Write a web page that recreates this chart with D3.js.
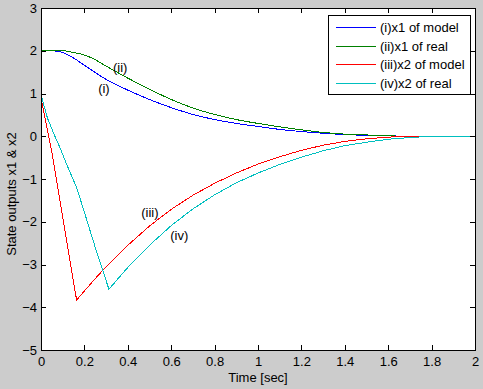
<!DOCTYPE html>
<html>
<head>
<meta charset="utf-8">
<script src="https://cdnjs.cloudflare.com/ajax/libs/d3/7.8.5/d3.min.js"></script>
<style>
    body { margin: 0; background: #cccccc; }
    text { font-family: "Liberation Sans", Arial, sans-serif; font-size: 13px; fill: #000; }
</style>
</head>
<body>
<svg id="chart" width="483" height="389"></svg>
<script>

/*************************************************************************/

const xTicks = [0, 0.2, 0.4, 0.6, 0.8, 1, 1.2, 1.4, 1.6, 1.8, 2];
const yTicks = [3, 2, 1, 0, -1, -2, -3, -4, -5];

const tX1     = [0, 0.05, 0.1, 0.15, 0.2, 0.25, 0.3, 0.35, 0.4, 0.5, 0.6, 0.7, 0.8, 0.9, 1.0, 1.1, 1.2, 1.3, 1.4, 1.5, 1.6, 1.7, 1.8, 2.0];
const x1Model = [2.0, 2.0, 1.96, 1.83, 1.66, 1.49, 1.33, 1.20, 1.08, 0.86, 0.67, 0.51, 0.39, 0.30, 0.23, 0.16, 0.11, 0.07, 0.04, 0.02, 0.01, 0, 0, 0];
const x1Real  = [2.0, 2.0, 2.0, 1.96, 1.90, 1.79, 1.64, 1.50, 1.36, 1.10, 0.86, 0.66, 0.51, 0.39, 0.30, 0.22, 0.15, 0.09, 0.05, 0.03, 0.01, 0, 0, 0];

const tX2Model = [0, 0.02, 0.05, 0.1, 0.164, 0.2, 0.25, 0.3, 0.4, 0.5, 0.6, 0.7, 0.8, 0.9, 1.0, 1.1, 1.2, 1.3, 1.4, 1.5, 1.6, 1.7, 2.0];
const x2Model  = [0.88, 0.40, -0.37, -1.9, -3.83, -3.62, -3.33, -3.05, -2.55, -2.10, -1.71, -1.38, -1.10, -0.86, -0.65, -0.48, -0.33, -0.21, -0.12, -0.06, -0.02, 0, 0];

const tX2Real = [0, 0.03, 0.06, 0.09, 0.12, 0.165, 0.2, 0.25, 0.313, 0.35, 0.4, 0.5, 0.6, 0.7, 0.8, 0.9, 1.0, 1.1, 1.2, 1.3, 1.4, 1.5, 1.6, 1.7, 1.8, 2.0];
const x2Real  = [0.97, 0.42, 0.05, -0.30, -0.68, -1.21, -1.78, -2.60, -3.58, -3.36, -3.07, -2.55, -2.09, -1.70, -1.37, -1.09, -0.86, -0.66, -0.49, -0.34, -0.22, -0.14, -0.07, -0.03, 0, 0];

const seriesNames  = ['(i)x1 of model', '(ii)x1 of real', '(iii)x2 of model', '(iv)x2 of real'];
const seriesColors = ['#0000ff', '#008000', '#ff0000', '#00bfbf'];

// curve annotations: text, t, value
const notes = [['(i)', 0.29, 1.12], ['(ii)', 0.365, 1.62], ['(iii)', 0.502, -1.79], ['(iv)', 0.637, -2.32]];

/*************************************************************************/

const svg = d3.select('#chart');
const L = 41, T = 8, R = 475, B = 350;

const x = d3.scaleLinear().domain([0, 2]).range([L, R]);
const y = d3.scaleLinear().domain([-5, 3]).range([B, T]);

svg.append('rect')
    .attr('x', 0).attr('y', 0).attr('width', 483).attr('height', 389)
    .attr('fill', '#cccccc');

svg.append('rect')
    .attr('x', L).attr('y', T).attr('width', R - L).attr('height', B - T)
    .attr('fill', '#ffffff');

/*************************************************************************/

const series = [
    { t: tX1, v: x1Model, smooth: true },
    { t: tX1, v: x1Real, smooth: true },
    { t: tX2Model, v: x2Model, smooth: false },
    { t: tX2Real, v: x2Real, smooth: false }
];

series.forEach((s, i) => {
    const pts = s.t.map((t, j) => [t, s.v[j]]);
    const line = d3.line()
        .x(d => x(d[0]))
        .y(d => y(d[1]))
        .curve(s.smooth ? d3.curveMonotoneX : d3.curveLinear);
    svg.append('path')
        .datum(pts)
        .attr('d', line)
        .attr('fill', 'none')
        .attr('stroke', seriesColors[i])
        .attr('stroke-width', 1)
        .attr('shape-rendering', 'crispEdges');
});

/*************************************************************************/

function styleAxis(g){
    g.selectAll('path, line').attr('stroke', '#000').attr('shape-rendering', 'crispEdges');
    g.selectAll('text').attr('font-family', null).attr('font-size', null).attr('fill', '#000');
}

svg.append('g')
    .attr('transform', `translate(0,${B})`)
    .call(d3.axisBottom(x).tickValues(xTicks).tickFormat(d3.format('')).tickSizeInner(-5).tickSizeOuter(0).tickPadding(7))
    .call(styleAxis);

svg.append('g')
    .attr('transform', `translate(0,${T})`)
    .call(d3.axisTop(x).tickValues(xTicks).tickFormat('').tickSizeInner(-5).tickSizeOuter(0))
    .call(styleAxis);

svg.append('g')
    .attr('transform', `translate(${L},0)`)
    .call(d3.axisLeft(y).tickValues(yTicks).tickFormat(d3.format('')).tickSizeInner(-5).tickSizeOuter(0).tickPadding(4))
    .call(styleAxis);

svg.append('g')
    .attr('transform', `translate(${R},0)`)
    .call(d3.axisRight(y).tickValues(yTicks).tickFormat('').tickSizeInner(-5).tickSizeOuter(0))
    .call(styleAxis);

/*************************************************************************/

svg.append('text')
    .attr('x', (L + R) / 2).attr('y', 382)
    .attr('text-anchor', 'middle')
    .text('Time [sec]');

svg.append('text')
    .attr('transform', 'translate(16,194) rotate(-90)')
    .attr('text-anchor', 'middle')
    .text('State outputs x1 & x2');

svg.selectAll('.note')
    .data(notes)
    .enter().append('text')
    .attr('class', 'note')
    .attr('x', d => x(d[1]))
    .attr('y', d => y(d[2]))
    .attr('dy', '0.35em')
    .attr('text-anchor', 'middle')
    .text(d => d[0]);

/*************************************************************************/

const legend = svg.append('g');

legend.append('rect')
    .attr('x', 328.5).attr('y', 15.5).attr('width', 142).attr('height', 79)
    .attr('fill', '#ffffff').attr('stroke', '#000');

seriesNames.forEach((name, i) => {
    const ly = 27.5 + i * 18.7;
    legend.append('line')
        .attr('x1', 336).attr('x2', 376).attr('y1', ly).attr('y2', ly)
        .attr('stroke', seriesColors[i])
        .attr('shape-rendering', 'crispEdges');
    legend.append('text')
        .attr('x', 380).attr('y', ly).attr('dy', '0.35em')
        .text(name);
});

/*************************************************************************/
</script>
</body>
</html>
